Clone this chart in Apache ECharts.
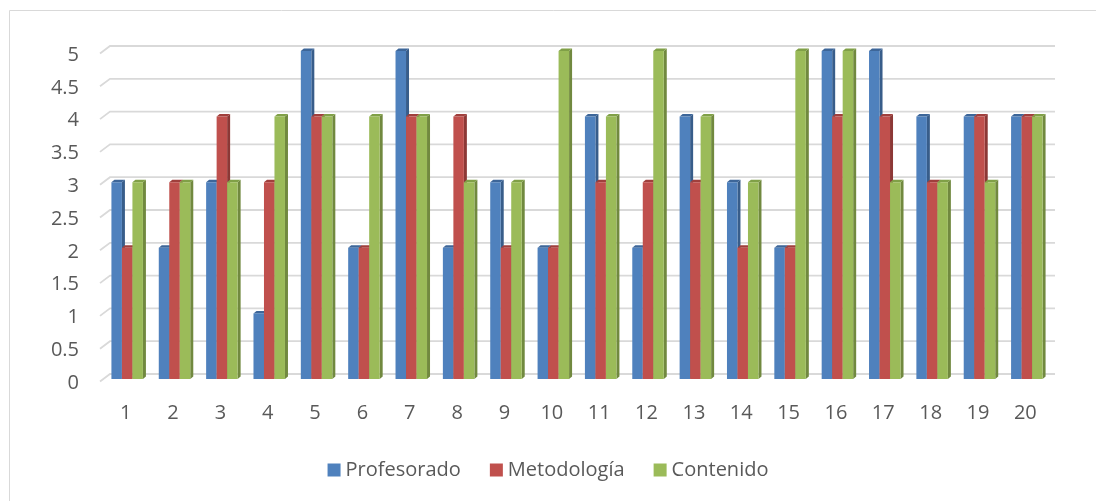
<!DOCTYPE html>
<html>
<head>
<meta charset="utf-8">
<script src="https://cdn.jsdelivr.net/npm/echarts@6/dist/echarts.min.js"></script>
<style>
  html, body { margin: 0; padding: 0; background: #fff; }
  #chart { width: 1096px; height: 501px; }
</style>
</head>
<body>
<div id="chart"></div>
<script>
  // datos
  var categories = ['1', '2', '3', '4', '5', '6', '7', '8', '9', '10',
    '11', '12', '13', '14', '15', '16', '17', '18', '19', '20'];
  var profesorado = [3, 2, 3, 1, 5, 2, 5, 2, 3, 2, 4, 2, 4, 3, 2, 5, 5, 4, 4, 4];
  var metodologia = [2, 3, 4, 3, 4, 2, 4, 4, 2, 2, 3, 3, 3, 2, 2, 4, 4, 3, 4, 4];
  var contenido = [3, 3, 3, 4, 4, 4, 4, 3, 3, 5, 4, 5, 4, 3, 5, 5, 3, 3, 3, 4];
  var yTicks = [0, 0.5, 1, 1.5, 2, 2.5, 3, 3.5, 4, 4.5, 5];

  var seriesNames = ['Profesorado', 'Metodología', 'Contenido'];
  var seriesData = [profesorado, metodologia, contenido];
  var colors = ['#4f81bd', '#c0504d', '#9bbb59'];
  var sideColors = ['#385d8a', '#8c3836', '#71893f'];
  var topColors = ['#3d6699', '#a03f3c', '#80a047'];

  var BW = 10.5;   // ancho frontal de cada barra
  var DX = 3, DY = 2.5;  // profundidad

  function barRenderer(k) {
    return function (params, api) {
      var idx = api.value(0);
      var v = api.value(1);
      var base = api.coord([idx, 0]);
      var top = api.coord([idx, v]);
      var x0 = base[0] - 1.5 * BW + k * BW + 1.5;
      var x1 = x0 + BW;
      var yb = base[1], yt = top[1];
      return {
        type: 'group',
        children: [
          { type: 'polygon', shape: { points: [[x1, yt], [x1 + DX, yt - DY], [x1 + DX, yb - DY], [x1, yb]] },
            style: { fill: sideColors[k] } },
          { type: 'polygon', shape: { points: [[x0, yt], [x0 + DX, yt - DY], [x1 + DX, yt - DY], [x1, yt]] },
            style: { fill: topColors[k] } },
          { type: 'rect', shape: { x: x0, y: yt, width: BW, height: yb - yt },
            style: { fill: colors[k] } }
        ]
      };
    };
  }

  var series = [];
  // lineas de division con efecto 3D
  series.push({
    type: 'custom',
    silent: true,
    z: 1,
    data: yTicks.map(function (t) { return [0, t]; }),
    renderItem: function (params, api) {
      var cs = params.coordSys;
      var y = api.coord([0, api.value(1)])[1];
      return {
        type: 'polyline',
        shape: { points: [[cs.x - 2, y + 2.5], [cs.x + 8, y - 5], [cs.x + cs.width + 6, y - 5]] },
        style: { stroke: '#d9d9d9', lineWidth: 1.8, fill: null }
      };
    }
  });
  seriesData.forEach(function (arr, k) {
    series.push({
      name: seriesNames[k],
      type: 'custom',
      z: 2 + k,
      itemStyle: { color: colors[k] },
      data: arr.map(function (v, i) { return [i, v]; }),
      renderItem: barRenderer(k)
    });
  });

  var chart = echarts.init(document.getElementById('chart'));
  chart.setOption({
    animation: false,
    graphic: [{
      type: 'rect',
      shape: { x: 9.5, y: 10.5, width: 1100, height: 520 },
      style: { fill: null, stroke: '#d9d9d9', lineWidth: 1 },
      silent: true
    }],
    grid: { left: 102, right: 47, top: 51, bottom: 122 },
    legend: {
      data: seriesNames,
      bottom: 16,
      left: 'center',
      icon: 'rect',
      itemWidth: 13,
      itemHeight: 13,
      itemGap: 29,
      textStyle: { fontFamily: 'Open Sans', fontSize: 20, color: '#595959' }
    },
    xAxis: {
      type: 'category',
      data: categories,
      axisLine: { show: false },
      axisTick: { show: false },
      axisLabel: { margin: 24, fontFamily: 'Open Sans', fontSize: 20, color: '#595959' }
    },
    yAxis: {
      type: 'value',
      min: 0,
      max: 5,
      interval: 0.5,
      axisLine: { show: false },
      axisTick: { show: false },
      splitLine: { show: false },
      axisLabel: {
        margin: 23,
        formatter: '{a|{value}}',
        rich: { a: { padding: [8, 0, 0, 0], fontFamily: 'Open Sans', fontSize: 20, color: '#595959' } }
      }
    },
    series: series
  });
</script>
</body>
</html>
